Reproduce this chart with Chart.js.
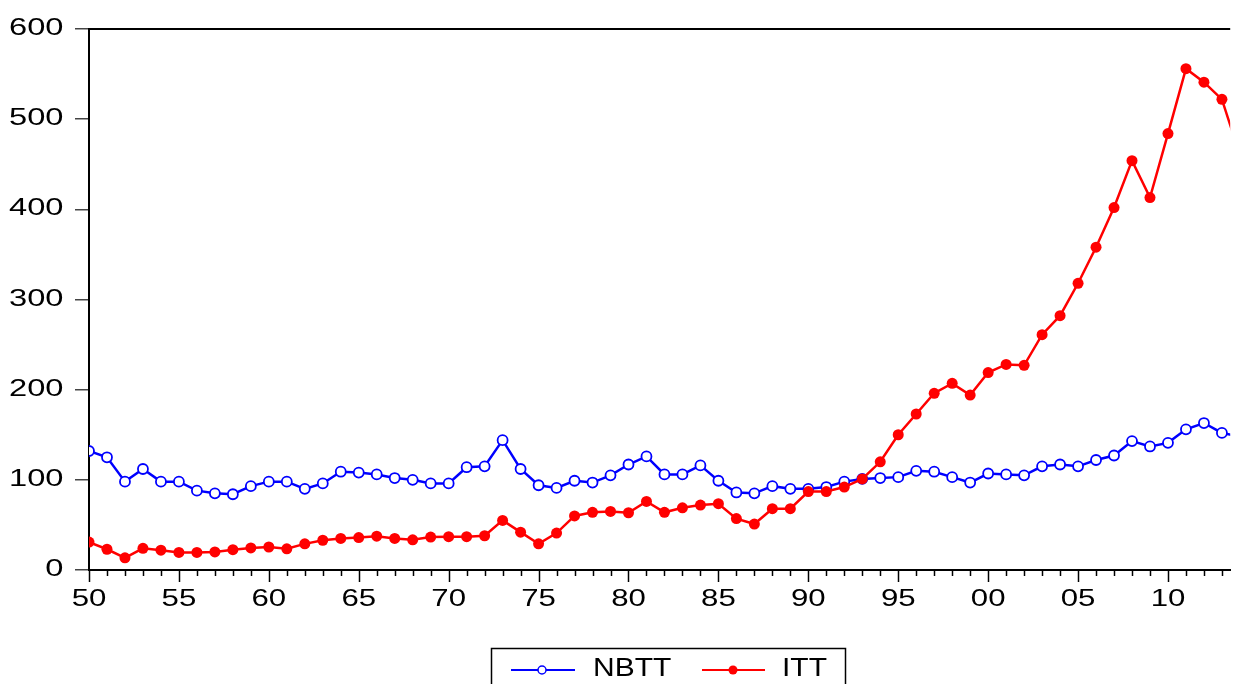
<!DOCTYPE html>
<html>
<head>
<meta charset="utf-8">
<script src="https://cdn.jsdelivr.net/npm/chart.js@4/dist/chart.umd.min.js"></script>
<style>
  html, body { margin: 0; padding: 0; background: #fff; overflow: hidden; }
  canvas { display: block; }
</style>
</head>
<body>
<canvas id="chart" width="1237" height="684"></canvas>
<script>
// years 1950..2014
const years = [
  1950, 1951, 1952, 1953, 1954, 1955, 1956, 1957, 1958, 1959,
  1960, 1961, 1962, 1963, 1964, 1965, 1966, 1967, 1968, 1969,
  1970, 1971, 1972, 1973, 1974, 1975, 1976, 1977, 1978, 1979,
  1980, 1981, 1982, 1983, 1984, 1985, 1986, 1987, 1988, 1989,
  1990, 1991, 1992, 1993, 1994, 1995, 1996, 1997, 1998, 1999,
  2000, 2001, 2002, 2003, 2004, 2005, 2006, 2007, 2008, 2009,
  2010, 2011, 2012, 2013, 2014
];

const nbtt = [
  132, 125, 98, 112, 98, 98, 88, 85, 84, 93,
  98, 98, 90, 96, 109, 108, 106, 102, 100, 96,
  96, 114, 115, 144, 112, 94, 91, 99, 97, 105,
  117, 126, 106, 106, 116, 99, 86, 85, 93, 90,
  90, 92, 98, 101, 102, 103, 110, 109, 103, 97,
  107, 106, 105, 115, 117, 115, 122, 127, 143, 137,
  141, 156, 163, 152, 148
];

const itt = [
  31, 23, 13.5, 24, 22, 19.5, 19.5, 20, 22.5, 24.5,
  25.5, 23.5, 29, 33, 35, 36, 37.5, 35, 33.5, 36.5,
  37, 37, 38, 55, 42, 29, 41, 60, 64, 65,
  63.5, 76, 64, 69, 72, 73.5, 57, 51, 68, 68,
  87, 87, 92, 101, 120, 150, 173, 196, 207, 194,
  219, 228, 227, 261, 282, 318, 358, 402, 454, 413,
  484, 556, 541, 522, 460
];

const yTicks = [0, 100, 200, 300, 400, 500, 600];
const xMin = 1950;
const xMax = 2013.46; // plot is cut at the right edge

const FONT = "'Liberation Sans', Arial, sans-serif";

// wide (stretched) text like the original EViews output
function wideText(ctx, text, x, y, sx, align) {
    ctx.save();
    ctx.translate(x, y);
    ctx.scale(sx, 1);
    ctx.textAlign = align;
    ctx.fillText(text, 0, 0);
    ctx.restore();
}

// frame top line, year ticks, tick labels, legend box
const extras = {
    id: 'extras',
    afterDraw(chart) {
        const ctx = chart.ctx;
        const area = chart.chartArea;
        const xs = chart.scales.x;
        const ys = chart.scales.y;
        ctx.save();

        // top border of the plot
        ctx.strokeStyle = '#000';
        ctx.lineWidth = 2;
        ctx.beginPath();
        ctx.moveTo(area.left - 1, area.top);
        ctx.lineTo(area.right, area.top);
        ctx.stroke();

        // year ticks on x axis
        ctx.lineWidth = 1.5;
        years.forEach(y => {
            if (y > xMax) return;
            const px = Math.round(xs.getPixelForValue(y)) + 0.5;
            const len = (y % 5 === 0) ? 12 : 6;
            ctx.beginPath();
            ctx.moveTo(px, area.bottom);
            ctx.lineTo(px, area.bottom + len);
            ctx.stroke();
        });

        // tick labels
        ctx.fillStyle = '#000';
        ctx.font = '24px ' + FONT;
        ctx.textBaseline = 'alphabetic';
        ys.ticks.forEach(t => {
            wideText(ctx, String(t.value), 63.5, ys.getPixelForValue(t.value) + 6, 1.36, 'right');
        });
        xs.ticks.forEach(t => {
            if (t.value % 5 !== 0) return;
            const lbl = String(t.value % 100).padStart(2, '0');
            wideText(ctx, lbl, xs.getPixelForValue(t.value), 606, 1.3, 'center');
        });

        // legend
        ctx.lineWidth = 1.5;
        ctx.strokeRect(491.5, 648.5, 354, 60);

        ctx.lineWidth = 2;
        ctx.strokeStyle = '#0000ff';
        ctx.beginPath();
        ctx.moveTo(511, 670);
        ctx.lineTo(575, 670);
        ctx.stroke();
        ctx.fillStyle = '#fff';
        ctx.lineWidth = 1.5;
        ctx.beginPath();
        ctx.arc(542, 670, 4, 0, Math.PI * 2);
        ctx.fill();
        ctx.stroke();

        ctx.lineWidth = 2;
        ctx.strokeStyle = '#ff0000';
        ctx.beginPath();
        ctx.moveTo(702, 670);
        ctx.lineTo(765, 670);
        ctx.stroke();
        ctx.fillStyle = '#ff0000';
        ctx.beginPath();
        ctx.arc(733, 670, 4.5, 0, Math.PI * 2);
        ctx.fill();

        ctx.fillStyle = '#000';
        ctx.font = '25px ' + FONT;
        wideText(ctx, 'NBTT', 593, 676, 1.2, 'left');
        wideText(ctx, 'ITT', 782, 676, 1.2, 'left');

        ctx.restore();
    }
};

const ctx = document.getElementById('chart').getContext('2d');
new Chart(ctx, {
    type: 'line',
    data: {
        datasets: [
            {
                label: 'NBTT',
                data: years.map((y, i) => ({ x: y, y: nbtt[i] })),
                borderColor: '#0000ff',
                borderWidth: 2.5,
                pointRadius: 5,
                pointBackgroundColor: '#ffffff',
                pointBorderColor: '#0000ff',
                pointBorderWidth: 1.8,
                tension: 0,
                order: 2
            },
            {
                label: 'ITT',
                data: years.map((y, i) => ({ x: y, y: itt[i] })),
                borderColor: '#ff0000',
                borderWidth: 2.5,
                pointRadius: 5.5,
                pointBackgroundColor: '#ff0000',
                pointBorderColor: '#ff0000',
                pointBorderWidth: 0,
                tension: 0,
                order: 1
            }
        ]
    },
    options: {
        responsive: false,
        animation: false,
        layout: {
            padding: { top: 29, right: 0, bottom: 0, left: 0 }
        },
        plugins: {
            legend: { display: false },
            tooltip: { enabled: false }
        },
        scales: {
            x: {
                type: 'linear',
                min: xMin,
                max: xMax,
                afterBuildTicks: (scale) => {
                    scale.ticks = years.filter(y => y <= xMax).map(v => ({ value: v }));
                },
                afterFit: (scale) => { scale.height = 114; },
                grid: { display: false, drawTicks: false },
                border: { display: true, color: '#000', width: 2 },
                ticks: { display: false }
            },
            y: {
                min: 0,
                max: 600,
                afterBuildTicks: (scale) => {
                    scale.ticks = yTicks.map(v => ({ value: v }));
                },
                afterFit: (scale) => { scale.width = 89; },
                grid: {
                    drawOnChartArea: false,
                    drawTicks: true,
                    tickLength: 14,
                    color: '#444',
                    lineWidth: 1.5
                },
                border: { display: true, color: '#000', width: 2 },
                ticks: { display: false }
            }
        }
    },
    plugins: [extras]
});
</script>
</body>
</html>
